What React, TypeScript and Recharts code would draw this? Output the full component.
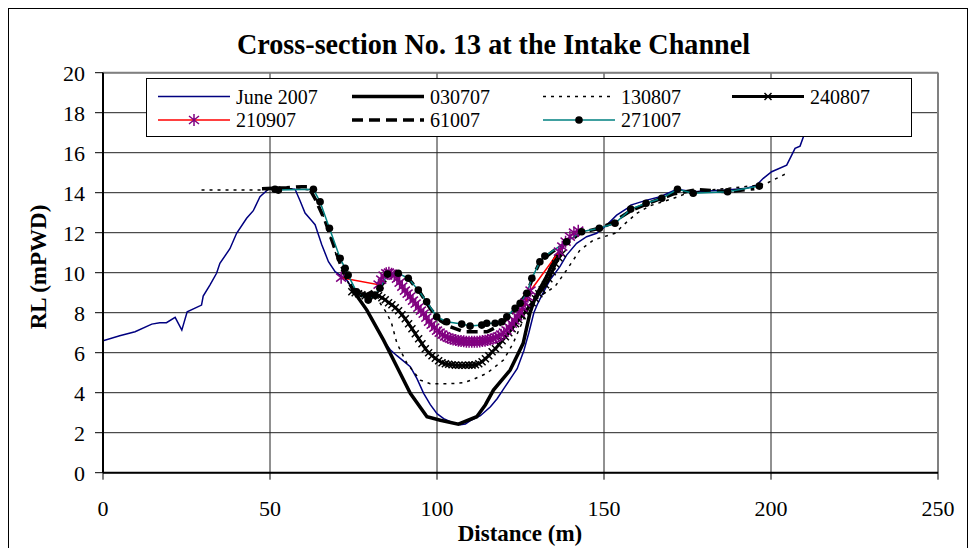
import React from 'react';
import { LineChart, Line, XAxis, YAxis, CartesianGrid, ReferenceLine } from 'recharts';

type P = [number, number];

const titleText = 'Cross-section No. 13 at the Intake Channel';
const xTitle = 'Distance (m)';
const yTitle = 'RL (mPWD)';
const xTicks = [0, 50, 100, 150, 200, 250];
const yTicks = [0, 2, 4, 6, 8, 10, 12, 14, 16, 18, 20];
const seriesNames = ['June 2007', '030707', '130807', '240807', '210907', '61007', '271007'];

const june2007: P[] = [
  [0, 6.6], [5, 6.85], [9.6, 7.05], [14.6, 7.43], [17, 7.5], [19, 7.5], [21.6, 7.77], [23.6, 7.13],
  [25.2, 8.05], [29.5, 8.38], [30, 8.83], [32, 9.38], [34, 9.97], [35, 10.47], [38, 11.2], [40, 11.97],
  [43, 12.72], [45, 13.1], [47, 13.8], [49.5, 14.17], [52.5, 14.22], [57.5, 14.17], [59, 13.6],
  [60.5, 12.98], [62.5, 12.6], [63.5, 12.4], [65.5, 11.4], [67.5, 10.55], [69.5, 10.05], [73, 9.63],
  [75, 9.13], [77, 8.6], [80, 7.8], [82, 7.2], [84, 6.6], [86, 6.15], [88, 5.85], [92, 5.3], [94, 4.7],
  [96, 3.97], [98, 3.4], [100, 2.95], [102, 2.7], [105, 2.47], [107, 2.4], [108.5, 2.43], [110, 2.6],
  [113, 2.85], [116, 3.3], [118, 3.7], [120, 4.2], [122, 4.7], [124, 5.2], [126, 6.1], [127.5, 7.0],
  [129, 8.0], [130, 8.4], [131.4, 8.88], [133.8, 9.63], [136.8, 10.3], [138.8, 10.88], [141.8, 11.47],
  [144.8, 11.8], [147.8, 11.97], [150.8, 12.38], [153.8, 12.88], [156.8, 13.2], [158, 13.38],
  [162.8, 13.63], [166.8, 13.8], [171.8, 14.17], [176.7, 14.05], [186.7, 14.13], [192.7, 14.22],
  [195.7, 14.38], [197.7, 14.72], [200.2, 15.05], [204.7, 15.38], [206.2, 15.88], [207.2, 16.22],
  [208.7, 16.33], [209.7, 16.8], [211, 18.2],
];

const s030707: P[] = [
  [74.5, 9.2], [79, 8.13], [84, 6.63], [88, 5.3], [92, 3.97], [97, 2.8], [101, 2.62], [106.4, 2.43],
  [111.9, 2.8], [114.5, 3.4], [116.9, 4.13], [121.9, 5.13], [125.8, 6.47], [127.8, 7.97], [129.5, 8.8],
  [132.8, 9.8], [135.3, 10.72], [137, 11.1],
];

const s130807: P[] = [
  [29.5, 14.13], [47.5, 14.13], [55, 14.2], [62, 14.15], [64, 13.6], [66, 12.8], [68, 11.8], [70, 10.8],
  [72, 10.0], [74, 9.3], [78, 9.0], [81, 8.8], [83, 8.47], [85, 7.97], [86.4, 7.47], [88, 6.47],
  [91, 5.47], [95, 4.63], [98, 4.45], [104, 4.45], [107.9, 4.5], [110.9, 4.67], [114.9, 4.97],
  [119.9, 5.63], [122.8, 6.47], [125.8, 7.63], [128, 8.4], [131, 8.85], [135.3, 9.3], [138.8, 10.13],
  [142.8, 11.13], [146.8, 11.63], [150, 11.8], [153.3, 11.97], [155.8, 12.38], [159.8, 12.97],
  [163.8, 13.35], [170.8, 13.72], [174.8, 13.97], [181.7, 14.13], [196.7, 14.38], [198.7, 14.47],
  [204.7, 14.97],
];

const s240807: P[] = [
  [74.5, 9.05], [75.5, 9.0], [76.5, 8.95], [77.5, 8.9], [78.5, 8.85], [79.5, 8.82], [80.5, 8.85],
  [81.5, 8.88], [82.5, 8.85], [83.5, 8.75], [84.5, 8.65], [85.5, 8.5], [86.5, 8.4], [87.5, 8.25],
  [88.5, 8.1], [89.5, 7.9], [90.5, 7.7], [91.5, 7.45], [92.5, 7.2], [93.5, 6.95], [94.5, 6.7],
  [95.5, 6.45], [96.5, 6.2], [97.5, 6.0], [98.5, 5.85], [99.5, 5.72], [100.5, 5.6], [101.5, 5.5],
  [102.5, 5.45], [103.5, 5.42], [104.5, 5.4], [105.5, 5.38], [106.5, 5.37], [107.5, 5.37],
  [108.5, 5.37], [109.5, 5.38], [110.5, 5.38], [111.5, 5.4], [112.5, 5.45], [113.5, 5.55],
  [114.5, 5.7], [115.5, 5.85], [116.5, 6.05], [117.5, 6.2], [118.5, 6.4], [119.5, 6.6], [120.5, 6.8],
  [121.5, 7.0], [122.5, 7.2], [123.5, 7.45], [124.5, 7.65], [125.5, 7.85], [126.5, 8.05], [127.5, 8.3],
  [128.5, 8.5], [129.5, 8.7], [130.5, 8.95], [131.5, 9.15], [132.5, 9.4], [133.5, 9.7], [134.5, 10.05],
  [135.5, 10.45], [136.5, 10.75], [137.5, 10.95],
];

const s210907: P[] = [
  [71.3, 9.75], [82.5, 9.4], [83.3, 9.65], [84, 9.85], [84.8, 9.97], [85.6, 10.0], [86.4, 9.95],
  [87.2, 9.85], [88, 9.7], [88.8, 9.5], [89.6, 9.3], [90.4, 9.1], [91.2, 8.95], [92, 8.8], [92.8, 8.6],
  [93.6, 8.45], [94.4, 8.25], [95.2, 8.1], [96, 7.95], [96.8, 7.75], [97.6, 7.55], [98.4, 7.4],
  [99.2, 7.25], [100, 7.1], [100.8, 7.0], [101.6, 6.9], [102.4, 6.82], [103.2, 6.75], [104, 6.7],
  [104.8, 6.66], [105.6, 6.63], [106.4, 6.6], [107.2, 6.58], [108, 6.57], [108.8, 6.55], [109.6, 6.55],
  [110.4, 6.55], [111.2, 6.55], [112, 6.55], [112.8, 6.56], [113.6, 6.58], [114.4, 6.6], [115.2, 6.63],
  [116, 6.66], [116.8, 6.7], [117.6, 6.75], [118.4, 6.82], [119.2, 6.9], [120, 7.0], [120.8, 7.12],
  [121.6, 7.27], [122.4, 7.45], [123.2, 7.62], [124, 7.82], [124.8, 8.02], [125.6, 8.25], [126.4, 8.5],
  [127.2, 8.8], [128, 9.1], [136.5, 11.05], [137.5, 11.3], [138.5, 11.55], [139.8, 11.8], [141, 12.0],
  [142.3, 12.1],
];

const s61007: P[] = [
  [47.6, 14.2], [55, 14.25], [59.5, 14.3], [61.5, 14.3], [63.5, 13.7], [66.5, 12.6], [69, 11.4],
  [72, 10.0], [75, 9.1], [79, 8.9], [83, 9.3], [86, 9.9], [89, 9.9], [92, 9.6], [95, 9.0], [98, 8.2],
  [101, 7.6], [104, 7.3], [108, 7.05], [115, 7.05], [118, 7.3], [121, 7.7], [124, 8.3], [127, 9.0],
  [129, 9.9], [131, 10.6], [135, 11.1], [139, 11.5], [143, 12.0], [148, 12.2], [152, 12.45],
  [158, 13.1], [163, 13.45], [167, 13.7], [171, 13.95], [178, 14.15], [187, 14.05], [195, 14.2],
];

const s271007: P[] = [
  [51.5, 14.17], [52.5, 14.13], [63, 14.17], [65, 13.55], [67.8, 12.22], [71, 10.72], [72.5, 10.22],
  [73.4, 9.88], [75.9, 9.05], [79.4, 8.63], [81.4, 8.88], [82.9, 9.22], [85.2, 9.93], [88.4, 9.97],
  [91.4, 9.72], [94.4, 9.13], [96.9, 8.55], [99.9, 7.8], [102.9, 7.55], [107.4, 7.43], [109.9, 7.33],
  [113.4, 7.38], [114.9, 7.47], [117.4, 7.47], [119.4, 7.55], [120.9, 7.8], [123.4, 8.22],
  [124.9, 8.47], [126.9, 8.97], [128.4, 9.72], [130.8, 10.55], [132.3, 10.83], [138.8, 11.55],
  [143.3, 12.05], [148.6, 12.22], [153.3, 12.47], [158, 13.18], [162.6, 13.47], [167.3, 13.72],
  [172, 14.17], [176.7, 13.97], [187, 14.05], [196.5, 14.33],
];

const rows = (pts: P[]) => pts.map(([x, y]) => ({ x, y }));

const FONT = '"Liberation Serif", "Times New Roman", serif';

const xMarkPath = (cx: number, cy: number, s: number) =>
  `M${cx - s},${cy - s}L${cx + s},${cy + s}M${cx - s},${cy + s}L${cx + s},${cy - s}`;
const starPath = (cx: number, cy: number) =>
  `M${cx},${cy - 6}L${cx},${cy + 6}M${cx - 5},${cy - 4}L${cx + 5},${cy + 4}M${cx - 5},${cy + 4}L${cx + 5},${cy - 4}`;

const XDot = (props: any) => {
  const { cx, cy, index } = props;
  if (cx == null || cy == null) return <g key={`xd${index}`} />;
  return <path key={`xd${index}`} d={xMarkPath(cx, cy, 3.5)} stroke="#000" strokeWidth={1.5} fill="none" />;
};
const StarDot = (props: any) => {
  const { cx, cy, index } = props;
  if (cx == null || cy == null) return <g key={`sd${index}`} />;
  return <path key={`sd${index}`} d={starPath(cx, cy)} stroke="#800080" strokeWidth={1.5} fill="none" />;
};
const BlackDot = (props: any) => {
  const { cx, cy, index } = props;
  if (cx == null || cy == null) return <g key={`bd${index}`} />;
  return <circle key={`bd${index}`} cx={cx} cy={cy} r={3.8} fill="#000" />;
};

const series = [
  { name: seriesNames[0], data: june2007, stroke: '#000080', width: 1.5, dash: undefined, dot: false as any },
  { name: seriesNames[1], data: s030707, stroke: '#000', width: 3.5, dash: undefined, dot: false as any },
  { name: seriesNames[2], data: s130807, stroke: '#000', width: 1.5, dash: '3 5', dot: false as any },
  { name: seriesNames[3], data: s240807, stroke: '#000', width: 3, dash: undefined, dot: XDot as any },
  { name: seriesNames[4], data: s210907, stroke: '#ff0000', width: 1.5, dash: undefined, dot: StarDot as any },
  { name: seriesNames[5], data: s61007, stroke: '#000', width: 3.5, dash: '11 6', dot: false as any },
  { name: seriesNames[6], data: s271007, stroke: '#008080', width: 1.5, dash: undefined, dot: BlackDot as any },
];

const legendCols = [158, 352, 543, 732];
const legendRows = [96.5, 120];

function LegendSample({ i, x, y }: { i: number; x: number; y: number }) {
  const s = series[i];
  const x2 = x + 72;
  const mid = (x + x2) / 2;
  return (
    <g>
      <line x1={x} y1={y} x2={x2} y2={y} stroke={s.stroke} strokeWidth={s.width} strokeDasharray={s.dash} />
      {i === 3 && <path d={xMarkPath(mid, y, 3.5)} stroke="#000" strokeWidth={1.5} />}
      {i === 4 && <path d={starPath(mid, y)} stroke="#800080" strokeWidth={1.5} />}
      {i === 6 && <circle cx={mid} cy={y} r={3.8} fill="#000" />}
      <text x={x2 + 6} y={y + 7} fontFamily={FONT} fontSize={20} fill="#000">{s.name}</text>
    </g>
  );
}

export default function App() {
  return (
    <div style={{ position: 'fixed', left: 0, top: 0, width: 971, height: 548, background: '#fff', overflow: 'hidden' }}>
      <div style={{ position: 'absolute', left: 8, top: 8, width: 958, height: 600, border: '1px solid #000' }} />
      <div style={{ position: 'absolute', left: 0, top: 0 }}>
        <LineChart width={971} height={548} margin={{ top: 72.7, right: 33, bottom: 35.3, left: 43 }}>
          <CartesianGrid stroke="#222" strokeWidth={1} />
          <XAxis
            dataKey="x"
            type="number"
            domain={[0, 250]}
            ticks={xTicks}
            height={40}
            tickSize={7}
            tickMargin={21}
            interval={0}
            allowDataOverflow
            axisLine={{ stroke: '#000', strokeWidth: 2 }}
            tickLine={{ stroke: '#000' }}
            tick={{ fontFamily: FONT, fontSize: 22, fill: '#000' }}
          />
          <YAxis
            type="number"
            domain={[0, 20]}
            ticks={yTicks}
            width={60}
            tickSize={8}
            tickMargin={10}
            interval={0}
            allowDataOverflow
            axisLine={{ stroke: '#000', strokeWidth: 2 }}
            tickLine={{ stroke: '#000' }}
            tick={{ fontFamily: FONT, fontSize: 22, fill: '#000' }}
          />
          <ReferenceLine y={20} stroke="#808080" strokeWidth={2} />
          <ReferenceLine x={250} stroke="#808080" strokeWidth={2} />
          {series.map((s) => (
            <Line
              key={s.name}
              data={rows(s.data)}
              dataKey="y"
              name={s.name}
              type="linear"
              stroke={s.stroke}
              strokeWidth={s.width}
              strokeDasharray={s.dash}
              dot={s.dot}
              activeDot={false}
              isAnimationActive={false}
            />
          ))}
        </LineChart>
      </div>
      <svg width={971} height={548} style={{ position: 'absolute', left: 0, top: 0, pointerEvents: 'none' }}>
        <text x={493.5} y={54} textAnchor="middle" fontFamily={FONT} fontWeight="bold" fontSize={29} textLength={513} lengthAdjust="spacingAndGlyphs" fill="#000">{titleText}</text>
        <text x={520} y={541} textAnchor="middle" fontFamily={FONT} fontWeight="bold" fontSize={23} fill="#000">{xTitle}</text>
        <text transform="translate(46,267) rotate(-90)" textAnchor="middle" fontFamily={FONT} fontWeight="bold" fontSize={23} fill="#000">{yTitle}</text>
        <rect x={146.5} y={78.5} width={765} height={58} fill="#fff" stroke="#000" strokeWidth={1} />
        {seriesNames.map((_, i) => (
          <LegendSample key={i} i={i} x={legendCols[i % 4]} y={legendRows[Math.floor(i / 4)]} />
        ))}
      </svg>
    </div>
  );
}
